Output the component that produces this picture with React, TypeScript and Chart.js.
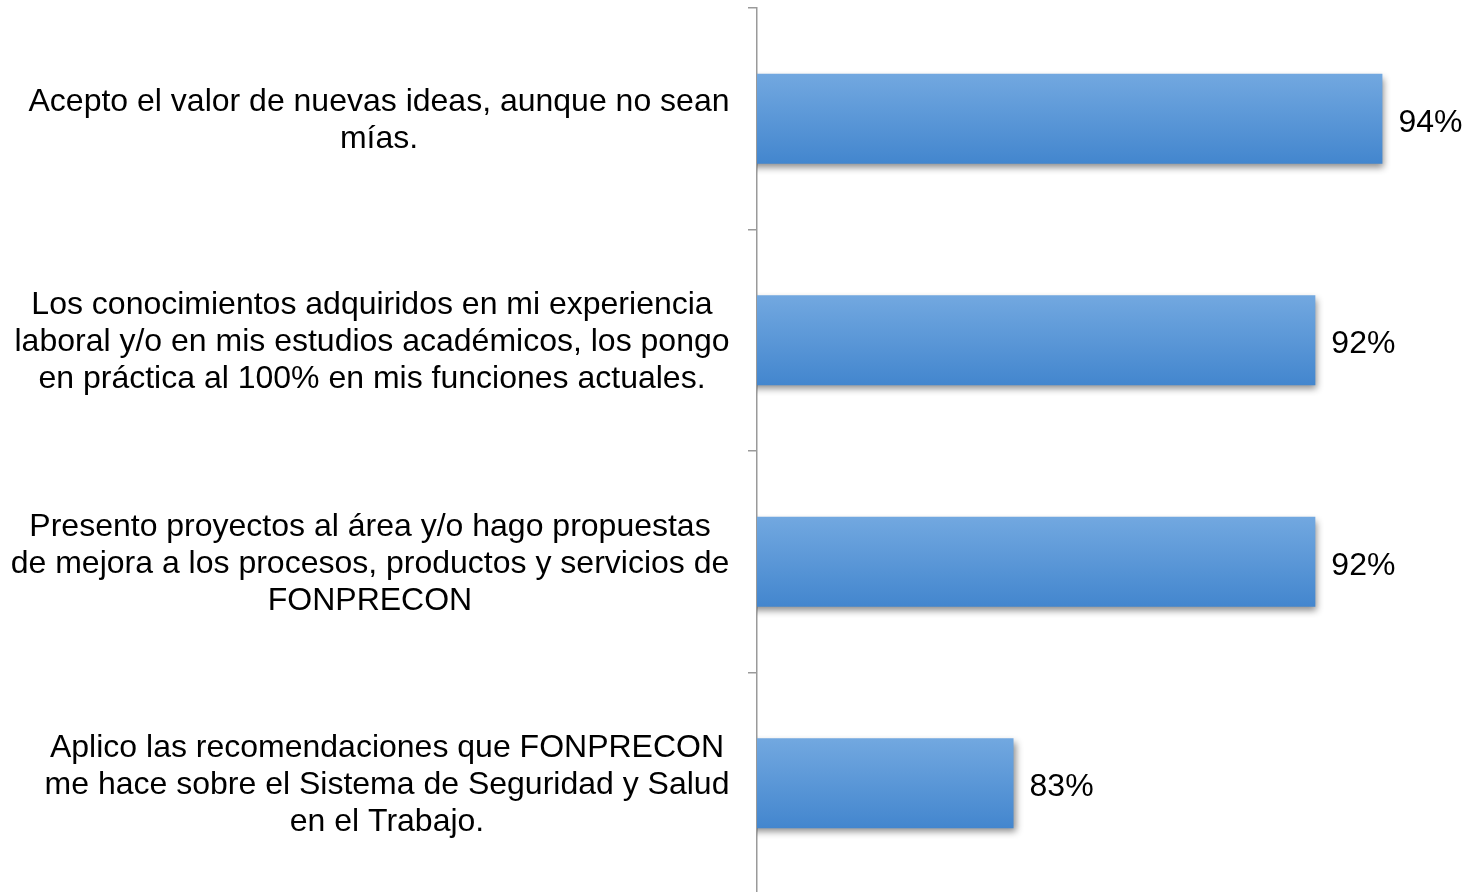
import React, { useEffect, useRef } from "react";
import { Chart, registerables } from "chart.js";

Chart.register(...registerables);

const categories: string[][] = [
  ["Acepto el valor de nuevas ideas, aunque no sean", "mías."],
  [
    "Los conocimientos adquiridos en mi experiencia",
    "laboral y/o en mis estudios académicos, los pongo",
    "en práctica al 100% en mis funciones actuales.",
  ],
  [
    "Presento proyectos al área y/o hago propuestas",
    "de mejora a los procesos, productos y servicios de",
    "FONPRECON",
  ],
  [
    "Aplico las recomendaciones que FONPRECON",
    "me hace sobre el Sistema de Seguridad y Salud",
    "en el Trabajo.",
  ],
];
const values: number[] = [94, 92, 92, 83];

// styling
const labelCenters = [379, 372, 370, 387];
const FONT = '32px "Liberation Sans", Arial, sans-serif';
const LINE_H = 37;
const BAR_T = 90;

const labelsPlugin = {
  id: "customLabels",
  beforeDatasetsDraw(chart: any) {
    const ctx = chart.ctx;
    ctx.save();
    ctx.shadowColor = "rgba(0,0,0,0.45)";
    ctx.shadowBlur = 7;
    ctx.shadowOffsetX = 2;
    ctx.shadowOffsetY = 4;
  },
  afterDatasetsDraw(chart: any) {
    const ctx = chart.ctx;
    ctx.restore();
    ctx.save();
    ctx.font = FONT;
    ctx.fillStyle = "#000";
    ctx.textBaseline = "middle";
    const meta = chart.getDatasetMeta(0);
    meta.data.forEach((el: any, i: number) => {
      ctx.textAlign = "left";
      ctx.fillText(values[i] + "%", el.x + 16, el.y + 4);
    });
    const yScale = chart.scales.y;
    categories.forEach((lines, i) => {
      const cy = yScale.getPixelForValue(i);
      const n = lines.length;
      ctx.textAlign = "center";
      lines.forEach((ln, j) => {
        const y = cy + 2 + (j - (n - 1) / 2) * LINE_H;
        ctx.fillText(ln, labelCenters[i], y);
      });
    });
    ctx.restore();
  },
};

export default function App() {
  const ref = useRef<HTMLCanvasElement | null>(null);
  useEffect(() => {
    document.body.style.margin = "0";
    document.body.style.overflow = "hidden";
    const canvas = ref.current!;
    const chart = new Chart(canvas, {
      type: "bar",
      data: {
        labels: categories,
        datasets: [
          {
            data: values,
            backgroundColor: (c: any) => {
              const fallback = "#5A97D8";
              if (c.type !== "data") return fallback;
              const ch = c.chart;
              const ys = ch.scales && ch.scales.y;
              if (!ys) return fallback;
              const cy = ys.getPixelForValue(c.dataIndex);
              if (!isFinite(cy)) return fallback;
              const g = ch.ctx.createLinearGradient(0, cy - BAR_T / 2, 0, cy + BAR_T / 2);
              g.addColorStop(0, "#72A8E0");
              g.addColorStop(1, "#4386CE");
              return g;
            },
            borderWidth: 0,
            barPercentage: BAR_T / 221.5,
            categoryPercentage: 1,
          },
        ],
      },
      options: {
        indexAxis: "y",
        responsive: false,
        animation: false,
        layout: { padding: { top: 8, right: 0, bottom: 0, left: 0 } },
        plugins: {
          legend: { display: false },
          tooltip: { enabled: false },
        },
        scales: {
          x: { type: "linear", display: false, min: 75.35, max: 96.94 },
          y: {
            type: "category",
            afterFit: (s: any) => {
              s.width = 757;
            },
            ticks: { display: false },
            grid: {
              display: true,
              drawOnChartArea: false,
              drawTicks: true,
              tickLength: 9,
              lineWidth: 1.5,
              color: "#9A9A9A",
              offset: true,
            },
            border: { display: true, color: "#9A9A9A", width: 1.5 },
          },
        },
      },
      plugins: [labelsPlugin],
    } as any);
    return () => chart.destroy();
  }, []);
  return (
    <div style={{ position: "absolute", left: 0, top: 0, width: 1481, height: 894, overflow: "hidden" }}>
      <canvas ref={ref} width={1481} height={894} style={{ width: 1481, height: 894 }} />
    </div>
  );
}
